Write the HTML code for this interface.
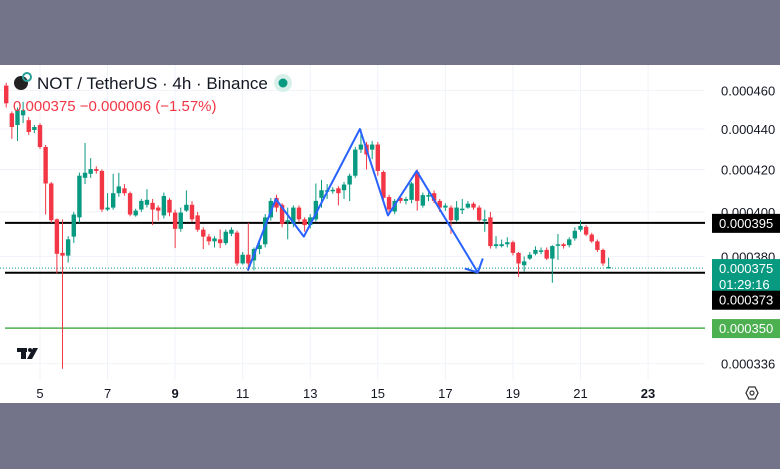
<!DOCTYPE html>
<html><head><meta charset="utf-8"><style>
html,body{margin:0;padding:0;background:#737389;}
svg{display:block;font-family:"Liberation Sans",sans-serif;}
</style></head><body>
<svg id="chart" width="780" height="469" viewBox="0 0 780 469" xmlns="http://www.w3.org/2000/svg">
<rect x="0" y="0" width="780" height="469" fill="#737389"/>
<rect x="0" y="65" width="780" height="338" fill="#ffffff"/>
<g id="grid"></g>
<g id="hlines"></g>
<g id="candles"></g>
<g id="drawings"></g>
<g id="axis"></g>
<g>
  <circle cx="21" cy="83" r="7" fill="#222"/>
  <circle cx="27" cy="77" r="4" fill="none" stroke="#2aa198" stroke-width="2"/>
  <text x="37" y="89" font-size="17" fill="#131722">NOT / TetherUS · 4h · Binance</text>
  <circle cx="283" cy="83" r="9" fill="#d9f0ea"/>
  <circle cx="283" cy="83" r="4.5" fill="#089981"/>
  <text x="13" y="111" font-size="15" fill="#f23645">0.000375 −0.000006 (−1.57%)</text>
</g>
<g fill="#131722">
  <rect x="17" y="348" width="10" height="4"/>
  <rect x="21" y="348" width="5" height="11"/>
  <circle cx="30" cy="350" r="2"/>
  <polygon points="33,348 38,348 32,359 27,359"/>
</g>
<g>
  <polygon points="746,393 749,387 755,387 758,393 755,399 749,399" fill="none" stroke="#333" stroke-width="1.3"/>
  <circle cx="752" cy="393" r="2" fill="none" stroke="#333" stroke-width="1.2"/>
</g>
</svg>
<script>
const NS="http://www.w3.org/2000/svg";
// OHLC in units of 1e-6 USDT, 4h candles starting day 4 00:00
const opens=[462.5,448,442,447,444.5,439.5,442,431,413.3,396.6,381.6,380.4,388.8,397.5,416,417.9,420.2,419.3,401.1,402,408.7,411,408.7,398.4,401.1,403.3,404.2,402,398.4,405.6,399.7,392.3,400.6,403.3,398.4,391.9,388.8,386.7,387.6,385.9,390.1,390.6,377,380.8,378.3,383.3,385.4,397.5,406.5,403.3,395.3,394.5,402,396.6,394,396.6,406.5,409.7,410,411,410.1,412.8,417,429.7,432.2,429.7,432.2,418.8,406.9,400.2,406.5,405.1,405.6,418.8,402.9,407.4,408.7,405.1,402,402,396.2,401.3,402,403.8,402,396.2,397.5,384.6,384.6,385.4,386.3,381.6,376.2,379.1,381.2,382.5,382.9,379.1,385,385.4,385,388,391.9,393.2,389.7,386.7,382.9,375];
const highs=[464,449,451,454,446,442,443,432,414,397,396.6,389,400,418.5,433,425.5,421.5,420,408.7,417.9,418.4,413,409.5,401.5,406,410.6,406,403,409,406.5,401,402,410,405,400,393,390,389,392,392,393,391.5,382,395,384,386.5,399,406.5,408,404,402,403,403,397.5,399,413.3,415,413,411.5,412,414,418,431,440,433.5,434,433.5,419.5,408,406,407,407,414,420,409,409,410,406,404,403,405,406,405,404.5,403,401,400,389,387.5,388.5,387,382,380,382,384.5,384,384,385,390,386,388.5,393,396.2,394,390.5,387.5,383.5,379.5];
const lows=[451,435,434,443,437,438,430,398.8,395,372.8,334,377.4,386,395,413,416,418,400,400.5,401,407,407.5,398,397.8,400,402,394,396,397,398,383.7,391,400,395.5,391,383.3,385,384,383.7,385,389,376,376.5,373.9,374,381,384,396,400,393,387.6,393,395.5,391,392.5,395.5,402,406,408.5,403,406,405,416,428,420,425,417,405,398.5,399,404,403.5,404,400.6,402,405,404,400,400.5,390,395.5,399,401.5,401,395.5,391,383.5,383.5,384,384,380.5,371.2,373.5,378.5,380.5,381,378.5,368.7,378.5,383.5,384,387,391,389,386,382,376,374.8];
const closes=[453.2,441,449.6,449.6,438.5,441,431,413.3,396.2,381.2,380.4,387.6,398.8,417,418.4,420.2,419.3,401.1,402,408.7,411.9,408.7,398.8,400.6,405.1,405.6,401.1,400.6,407.4,399.7,392.3,399.7,403.3,396.6,391.9,388.8,386.7,388,385.9,391,391.9,377,380.8,377,383.3,385,397.5,405.1,402,394.5,396.2,402,396.6,394,397.5,405.1,410.1,410.1,410.3,408.7,412.8,417,429.7,432.2,427.3,432.2,419.3,406.5,401.1,405.1,405.1,406,413.3,405.1,407.8,407.8,405.1,402,402.9,396.2,402,401.5,403.8,402,396.2,396.6,384.6,385.4,385.4,386.3,381.6,377,377.9,380.8,382.9,382.7,379.1,384.6,385.4,384.6,387.6,391.4,393.6,389.7,386.7,382.9,377,375.5];
const priceTicks=[460,440,420,400,380,336];
const dateTicks=[5,7,9,11,13,15,17,19,21,23];
const boldDates=[9,23];
const hLevels=[395,373];
const supportLevel=350;
const lastPrice=375;
const zigzagDays=[11.15,11.98,12.81,14.47,15.30,16.15,17.96];
const zigzagPrices=[373.9,406,388.8,440,398.4,419.3,373.1];

const PLOT_R=705;
function xScale(day){return 40+(day-5)*33.78;}
function yScale(p){return 129-870*Math.log(p/440);}
function el(tag,attrs,parent){const e=document.createElementNS(NS,tag);for(const k in attrs)e.setAttribute(k,attrs[k]);parent.appendChild(e);return e;}

const grid=document.getElementById('grid');
priceTicks.forEach(p=>{const l=el('line',{x1:0,x2:PLOT_R,y1:yScale(p),y2:yScale(p),stroke:'#f0f3fa','stroke-width':1},grid);

});
dateTicks.forEach(d=>{const l=el('line',{x1:xScale(d),x2:xScale(d),y1:65,y2:380,stroke:'#f0f3fa','stroke-width':1},grid);

});

const hl=document.getElementById('hlines');
hLevels.forEach(p=>{const l=el('line',{x1:5,x2:PLOT_R,y1:yScale(p),y2:yScale(p),stroke:'#000','stroke-width':2},hl);

});
const sl=el('line',{x1:5,x2:PLOT_R,y1:yScale(supportLevel),y2:yScale(supportLevel),stroke:'#4caf50','stroke-width':1.5},hl);


const lp=el('line',{x1:0,x2:PLOT_R,y1:yScale(lastPrice),y2:yScale(lastPrice),stroke:'#089981','stroke-width':1,'stroke-dasharray':'1,2'},hl);



const cg=document.getElementById('candles');
for(let i=0;i<opens.length;i++){
  const x=xScale(4+i/6);
  const up=closes[i]>=opens[i];
  const col=up?'#089981':'#f23645';
  const g=el('g',{},cg);
  
  
  el('line',{x1:x,x2:x,y1:yScale(highs[i]),y2:yScale(lows[i]),stroke:col,'stroke-width':1},g);
  const top=yScale(Math.max(opens[i],closes[i])),bot=yScale(Math.min(opens[i],closes[i]));
  el('rect',{x:x-2.2,y:top,width:4.4,height:Math.max(1.5,bot-top),fill:col},g);
}

const dg=document.getElementById('drawings');
const pts=zigzagDays.map((d,i)=>xScale(d)+','+yScale(zigzagPrices[i])).join(' ');
const zz=el('polyline',{points:pts,fill:'none',stroke:'#2962ff','stroke-width':2,'stroke-linejoin':'round'},dg);


const n=zigzagDays.length-1;
const ex=xScale(zigzagDays[n]),ey=yScale(zigzagPrices[n]);
const ah=el('polyline',{points:(ex+5)+','+(ey-14)+' '+ex+','+ey+' '+(ex-13)+','+(ey-4),fill:'none',stroke:'#2962ff','stroke-width':2},dg);



const ax=document.getElementById('axis');
priceTicks.forEach(p=>{const t=el('text',{x:721,y:yScale(p)+5,'font-size':13,fill:'#131722'},ax);t.textContent='0.000'+p;

});
dateTicks.forEach(d=>{const t=el('text',{x:xScale(d),y:398,'font-size':13,fill:'#131722','text-anchor':'middle','font-weight':boldDates.includes(d)?'bold':'normal'},ax);t.textContent=d;

});
function box(y,h,fill,lines,name){
  const g=el('g',{},ax);
  
  
  el('rect',{x:712,y:y,width:68,height:h,fill:fill},g);
  lines.forEach((s,i)=>{const t=el('text',{x:719,y:y+14+i*16,'font-size':13,fill:'#fff'},g);t.textContent=s;});
}
box(yScale(hLevels[0])-9,19,'#000',['0.000'+hLevels[0]],'level-price-label');
box(yScale(lastPrice)-9,32,'#089981',['0.000'+lastPrice,'01:29:16'],'last-price-label');
box(yScale(hLevels[1])+18,19,'#000',['0.000'+hLevels[1]],'level-price-label-lower');
box(yScale(supportLevel)-9,19,'#4caf50',['0.000'+supportLevel],'support-price-label');
</script>
</body></html>
